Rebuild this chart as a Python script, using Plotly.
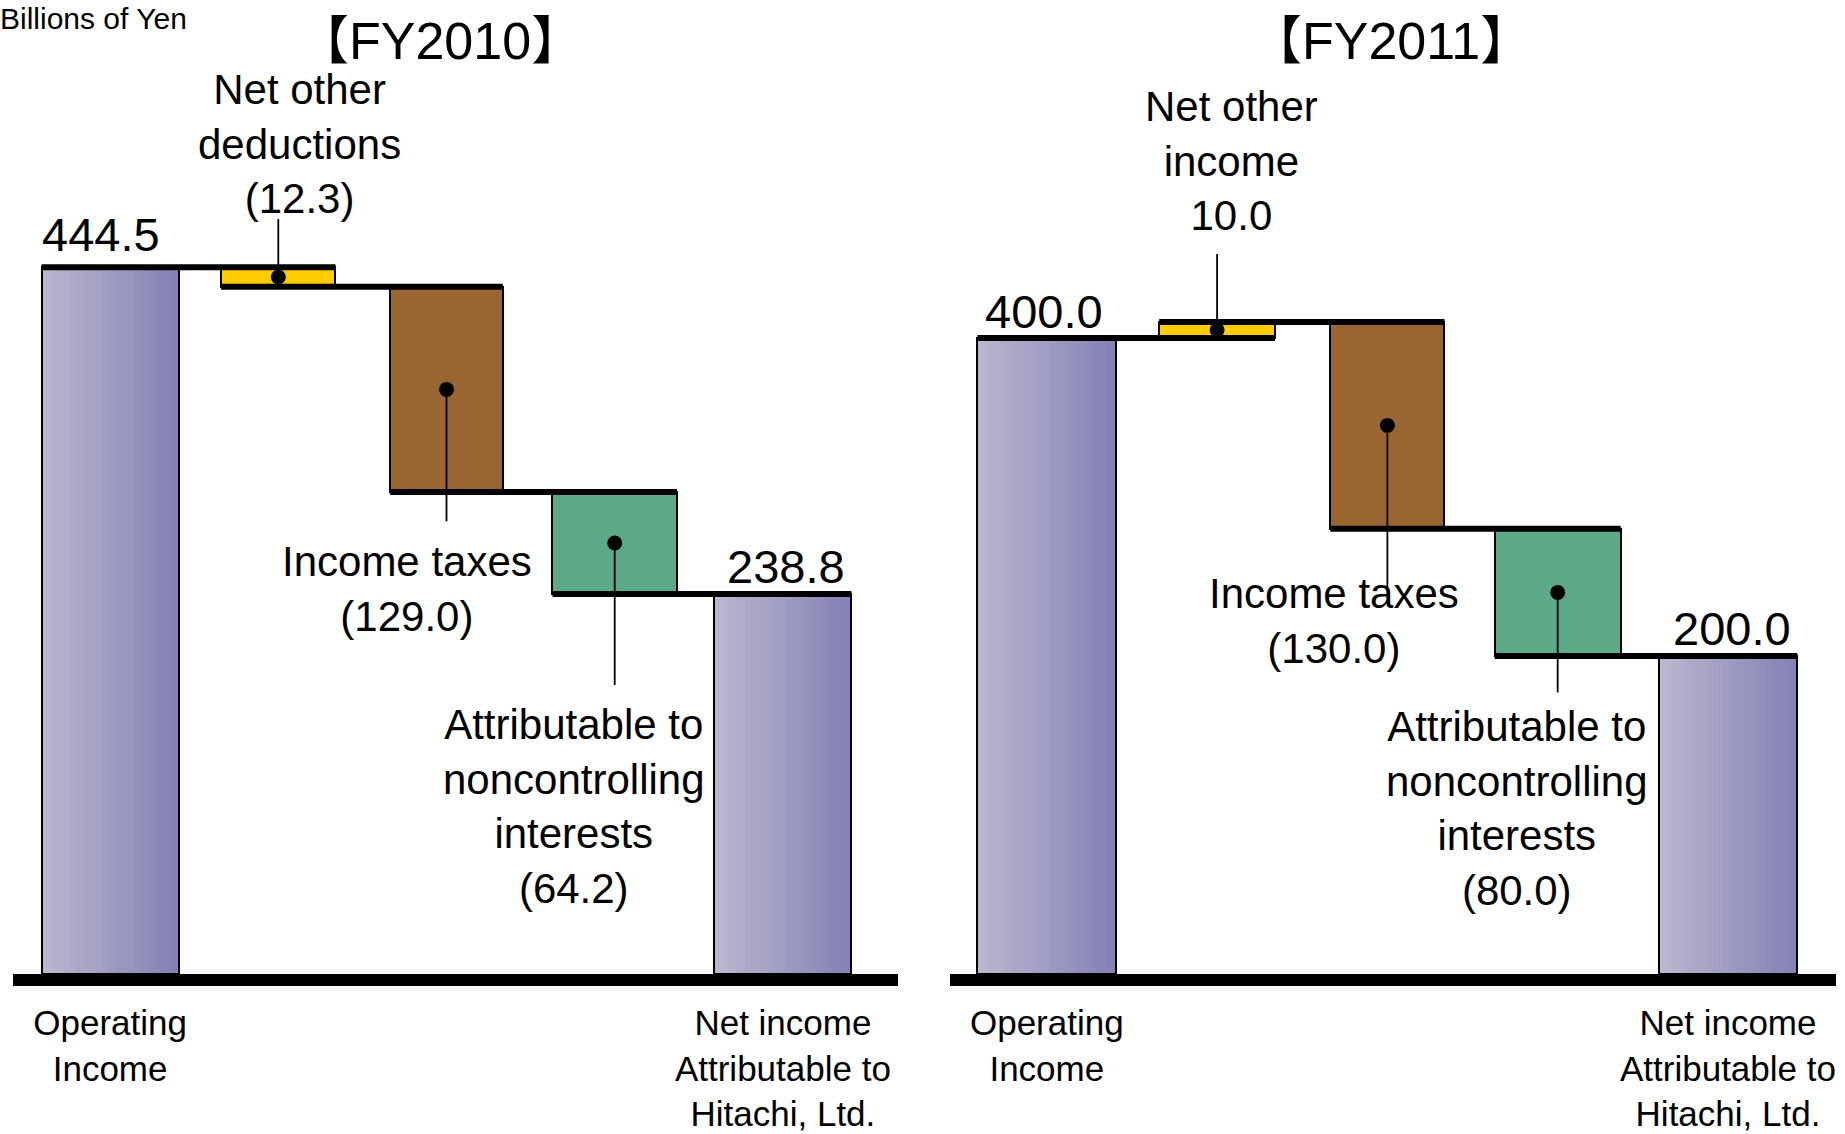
import plotly.graph_objects as go

# ---------------- data ----------------
categories = ["Operating Income", "Net other income/deductions", "Income taxes",
              "Noncontrolling interests", "Net income attributable to Hitachi, Ltd."]
measures = ["total", "relative", "relative", "relative", "total"]
fy2010_values = [444.5, -12.3, -129.0, -64.2, 238.8]
fy2011_values = [400.0, 10.0, -130.0, -80.0, 200.0]
fy2010_labels = ["444.5", "Net other<br>deductions<br>(12.3)", "Income taxes<br>(129.0)",
                 "Attributable to<br>noncontrolling<br>interests<br>(64.2)", "238.8"]
fy2011_labels = ["400.0", "Net other<br>income<br>10.0", "Income taxes<br>(130.0)",
                 "Attributable to<br>noncontrolling<br>interests<br>(80.0)", "200.0"]
tick_labels = ["Operating<br>Income", "", "", "", "Net income<br>Attributable to<br>Hitachi, Ltd."]
panel_titles = ["【FY2010】", "【FY2011】"]
unit_label = "Billions of Yen"

# ---------------- style ----------------
W, H = 1845, 1134
FONT = "Liberation Sans, Arial, Noto Sans CJK JP, sans-serif"
bar_widths = [0.815, 0.68, 0.67, 0.74, 0.815]
change_colors = ["#FFCC00", "#996633", "#5CAA87"]
grad_left = (186, 183, 206)
grad_right = (132, 129, 181)
N_SLICES = 30
Y_MAX = 612.6
Y_DOMAIN = [160 / H, 1.0]

panels = [
    dict(values=fy2010_values, labels=fy2010_labels, title=panel_titles[0],
         xa="x", xaxis_key="xaxis", domain=[13 / W, 898 / W], xrange=[-0.5773, 4.6843],
         title_x=440 / W,
         leaders=[58, -132, -142],
         label_shift=[(21, 133), (-40, -200), (-41, -264)],
         total_shift=[(-9, 33), (3, 28)]),
    dict(values=fy2011_values, labels=fy2011_labels, title=panel_titles[1],
         xa="x2", xaxis_key="xaxis2", domain=[950 / W, 1836 / W], xrange=[-0.5684, 4.6343],
         title_x=1391 / W,
         leaders=[76, -162, -100],
         label_shift=[(14, 169), (-53, -196), (-41, -216)],
         total_shift=[(-3, 27), (4, 28)]),
]

fig = go.Figure()
shapes = []
annotations = []


def lerp(a, b, t):
    return tuple(round(a[i] + (b[i] - a[i]) * t) for i in range(3))


for p in panels:
    vals = p["values"]
    xa = p["xa"]
    # running levels
    levels = []
    run = 0.0
    for v, m in zip(vals, measures):
        run = v if m == "total" else run + v
        levels.append(run)
    prev = [None] + levels[:-1]

    # total bars with horizontal gradient
    tot_idx = [i for i, m in enumerate(measures) if m == "total"]
    tot_vals = [vals[i] for i in tot_idx]
    tot_w = [bar_widths[i] for i in tot_idx]
    for k in range(N_SLICES):
        col = lerp(grad_left, grad_right, k / (N_SLICES - 1))
        fig.add_trace(go.Bar(
            x=tot_idx, y=tot_vals, xaxis=xa, yaxis="y",
            width=[w / N_SLICES * 1.15 for w in tot_w],
            offset=[-w / 2 + k * w / N_SLICES for w in tot_w],
            marker=dict(color="rgb(%d,%d,%d)" % col, line=dict(width=0)),
            showlegend=False, hoverinfo="skip"))
    fig.add_trace(go.Bar(
        x=tot_idx, y=tot_vals, xaxis=xa, yaxis="y", width=tot_w,
        marker=dict(color="rgba(0,0,0,0)", line=dict(color="black", width=2)),
        showlegend=False, hoverinfo="skip"))

    # change bars
    ch_idx = [i for i, m in enumerate(measures) if m == "relative"]
    ch_base = [min(prev[i], levels[i]) for i in ch_idx]
    ch_len = [abs(vals[i]) for i in ch_idx]
    fig.add_trace(go.Bar(
        x=ch_idx, y=ch_len, base=ch_base, xaxis=xa, yaxis="y",
        width=[bar_widths[i] for i in ch_idx],
        marker=dict(color=change_colors, line=dict(color="black", width=2)),
        showlegend=False, hoverinfo="skip"))

    # connector lines
    cx, cy = [], []
    for i in range(len(vals) - 1):
        cx += [i - bar_widths[i] / 2, i + 1 + bar_widths[i + 1] / 2, None]
        cy += [levels[i], levels[i], None]
    fig.add_trace(go.Scatter(x=cx, y=cy, xaxis=xa, yaxis="y", mode="lines",
                             line=dict(color="black", width=6),
                             showlegend=False, hoverinfo="skip"))

    # dots on change bars
    mids = [(prev[i] + levels[i]) / 2 for i in ch_idx]
    fig.add_trace(go.Scatter(x=ch_idx, y=mids, xaxis=xa, yaxis="y", mode="markers",
                             marker=dict(color="black", size=15),
                             showlegend=False, hoverinfo="skip"))

    # leader lines + labels
    for j, i in enumerate(ch_idx):
        shapes.append(dict(type="line", xref=xa, yref="y", x0=i, x1=i,
                           ysizemode="pixel", yanchor=mids[j], y0=0, y1=p["leaders"][j],
                           line=dict(color="black", width=1.8), layer="above"))
        dx, dy = p["label_shift"][j]
        annotations.append(dict(x=i, y=mids[j], xref=xa, yref="y", text=p["labels"][i],
                                showarrow=False, xshift=dx, yshift=dy,
                                xanchor="center", yanchor="middle",
                                font=dict(size=42, color="black", family=FONT)))
    for j, i in enumerate(tot_idx):
        dx, dy = p["total_shift"][j]
        annotations.append(dict(x=i, y=vals[i], xref=xa, yref="y", text=p["labels"][i],
                                showarrow=False, xshift=dx, yshift=dy,
                                xanchor="center", yanchor="middle",
                                font=dict(size=47, color="black", family=FONT)))
    # panel title
    annotations.append(dict(x=p["title_x"], y=1 - 41 / H, xref="paper", yref="paper",
                            text=p["title"], showarrow=False, xanchor="center", yanchor="middle",
                            font=dict(size=52, color="black", family=FONT)))

annotations.append(dict(x=0, y=1.0, xref="paper", yref="paper", text=unit_label,
                        showarrow=False, xanchor="left", yanchor="top", xshift=-2,
                        font=dict(size=30, color="black", family=FONT)))

axis_common = dict(type="linear", showgrid=False, zeroline=False, showline=True,
                   linecolor="black", linewidth=12, ticks="", anchor="y",
                   automargin=False,
                   tickvals=list(range(len(categories))), ticktext=tick_labels,
                   tickfont=dict(size=35, color="black", family=FONT),
                   ticklabelstandoff=7, fixedrange=True)

layout = dict(
    width=W, height=H, margin=dict(l=0, r=0, t=0, b=0, autoexpand=False),
    paper_bgcolor="white", plot_bgcolor="white",
    barmode="overlay", bargap=0, showlegend=False, hovermode=False,
    yaxis=dict(domain=Y_DOMAIN, range=[0, Y_MAX], visible=False, anchor="x",
               fixedrange=True, automargin=False),
    shapes=shapes, annotations=annotations,
)
for p in panels:
    layout[p["xaxis_key"]] = dict(axis_common, domain=p["domain"], range=p["xrange"])

fig.update_layout(**layout)
fig.write_html("out.html", config=dict(displayModeBar=False))
